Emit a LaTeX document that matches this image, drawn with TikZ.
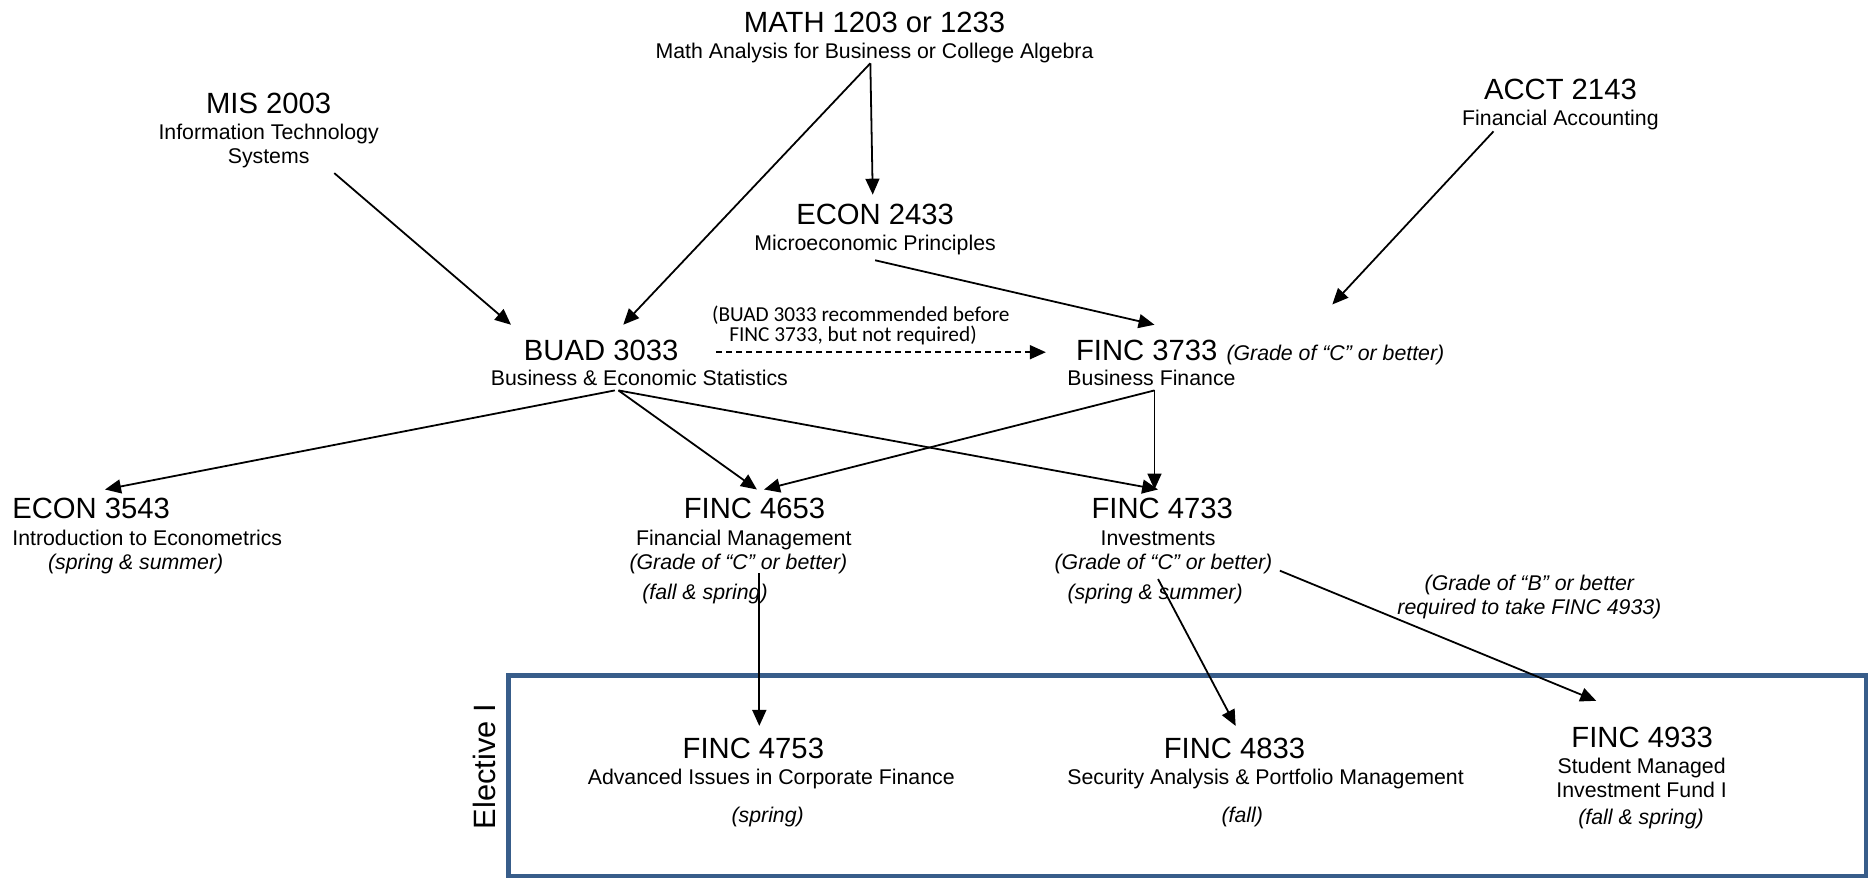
\documentclass[tikz,border=0pt]{standalone}
\usepackage{fontspec}
\setmainfont{Liberation Sans}
\newfontfamily\calib{Carlito}
\usetikzlibrary{arrows.meta}
\definecolor{boxblue}{HTML}{385D8A}
\tikzset{
  hd/.style={font=\fontsize{14.7}{17}\selectfont, anchor=base, inner sep=0pt},
  sb/.style={font=\fontsize{10.7}{13}\selectfont, anchor=base, inner sep=0pt},
  itx/.style={font=\fontsize{10.7}{13}\selectfont\itshape, anchor=base, inner sep=0pt},
  note/.style={font=\calib\fontsize{10.7}{13}\selectfont, anchor=base, inner sep=0pt},
  arr/.style={line width=0.9pt, -{Triangle[length=8pt,width=7pt]}},
  darr/.style={line width=0.9pt, dash pattern=on 3pt off 2pt, -{Triangle[length=8pt,width=7pt]}}
}
\begin{document}
\begin{tikzpicture}[x=0.6pt,y=-0.6pt]
\useasboundingbox (0,0) rectangle (1568,735);
% elective box
\draw[boxblue, line width=2.4pt] (426,566) rectangle (1563,734);
\node[font=\fontsize{15.5}{18}\selectfont, rotate=90, inner sep=0pt] (elect) at (406,642) {Elective I};

% top row
\node[hd] (math) at (732.5,27) {MATH 1203 or 1233};
\node[sb] (mathsub) at (732.5,49) {Math Analysis for Business or College Algebra};
\node[hd] (mis) at (225,95) {MIS 2003};
\node[sb] (missub1) at (225,117) {Information Technology};
\node[sb] (missub2) at (225,137) {Systems};
\node[hd] (acct) at (1307,83) {ACCT 2143};
\node[sb] (acctsub) at (1307,105) {Financial Accounting};
\node[hd] (econa) at (733,188) {ECON 2433};
\node[sb] (econasub) at (733,210) {Microeconomic Principles};

% second row
\node[hd] (buad) at (503.5,302) {BUAD 3033};
\node[sb] (buadsub) at (535.5,323) {Business \& Economic Statistics};
\node[note] (note1) at (721,269) {(BUAD 3033 recommended before};
\node[note] (note2) at (714.5,286) {FINC 3733, but not required)};
\node[hd, anchor=base west] (fina) at (901,302) {FINC 3733};
\node[itx, anchor=base west] (finagr) at (1027,302) {(Grade of “C” or better)};
\node[sb] (finasub) at (964.5,323) {Business Finance};

% third row
\node[hd, anchor=base west] (econb) at (10,434) {ECON 3543};
\node[sb, anchor=base west] (econbsub) at (10,457) {Introduction to Econometrics};
\node[itx, anchor=base west] (econbsem) at (40,477) {(spring \& summer)};
\node[hd] (finb) at (632,434) {FINC 4653};
\node[sb] (finbsub) at (623,457) {Financial Management};
\node[itx] (finbgr) at (618.5,477) {(Grade of “C” or better)};
\node[itx] (finbsem) at (590.5,502) {(fall \& spring)};
\node[hd] (finc) at (973.5,434) {FINC 4733};
\node[sb] (fincsub) at (970,457) {Investments};
\node[itx] (fincgr) at (974.5,477) {(Grade of “C” or better)};
\node[itx] (fincsem) at (967.5,502) {(spring \& summer)};
\node[itx] (bnote1) at (1281,495) {(Grade of “B” or better};
\node[itx] (bnote2) at (1281,515) {required to take FINC 4933)};

% electives
\node[hd] (find) at (631,635) {FINC 4753};
\node[sb] (findsub) at (646,657) {Advanced Issues in Corporate Finance};
\node[itx] (findsem) at (643,689) {(spring)};
\node[hd] (fine) at (1034,635) {FINC 4833};
\node[sb] (finesub) at (1060,657) {Security Analysis \& Portfolio Management};
\node[itx] (finesem) at (1040.5,689) {(fall)};
\node[hd] (finf) at (1375.5,626) {FINC 4933};
\node[sb] (finfsub1) at (1375,648) {Student Managed};
\node[sb] (finfsub2) at (1375,668) {Investment Fund I};
\node[itx] (finfsem) at (1374.5,691) {(fall \& spring)};

% attachment points
\coordinate (mathout) at (729,53);
\coordinate (econain) at (731,163);
\coordinate (econaout) at (733,218);
\coordinate (buadin) at (522,272);
\coordinate (buadinl) at (428,272);
\coordinate (misout) at (280,145);
\coordinate (acctout) at (1251,110);
\coordinate (finain) at (1116,255);
\coordinate (finaint) at (967,272);
\coordinate (dashs) at (600,295);
\coordinate (dashe) at (876,295);
\coordinate (buadout) at (518,327);
\coordinate (buadoutl) at (515,327);
\coordinate (econbin) at (88,410);
\coordinate (finbin) at (634,410);
\coordinate (finbinr) at (640,410);
\coordinate (fincin) at (970,410);
\coordinate (finaout) at (967,327);
\coordinate (fincinv) at (967,410);
\coordinate (finbout) at (636,480);
\coordinate (findin) at (636,608);
\coordinate (fincout) at (970,485);
\coordinate (finein) at (1035,608);
\coordinate (fincoutr) at (1072,478);
\coordinate (finfin) at (1337,587);

% connectors
\draw[arr] (mathout) -- (buadin);
\draw[arr] (mathout) -- (econain);
\draw[arr] (misout) -- (buadinl);
\draw[arr] (acctout) -- (finain);
\draw[arr] (econaout) -- (finaint);
\draw[darr] (dashs) -- (dashe);
\draw[arr] (buadoutl) -- (econbin);
\draw[arr] (buadout) -- (finbin);
\draw[arr] (buadout) -- (fincin);
\draw[arr] (finaout) -- (finbinr);
\draw[arr] (finaout) -- (fincinv);
\draw[arr] (finbout) -- (findin);
\draw[arr] (fincout) -- (finein);
\draw[arr] (fincoutr) -- (finfin);
\end{tikzpicture}
\end{document}
